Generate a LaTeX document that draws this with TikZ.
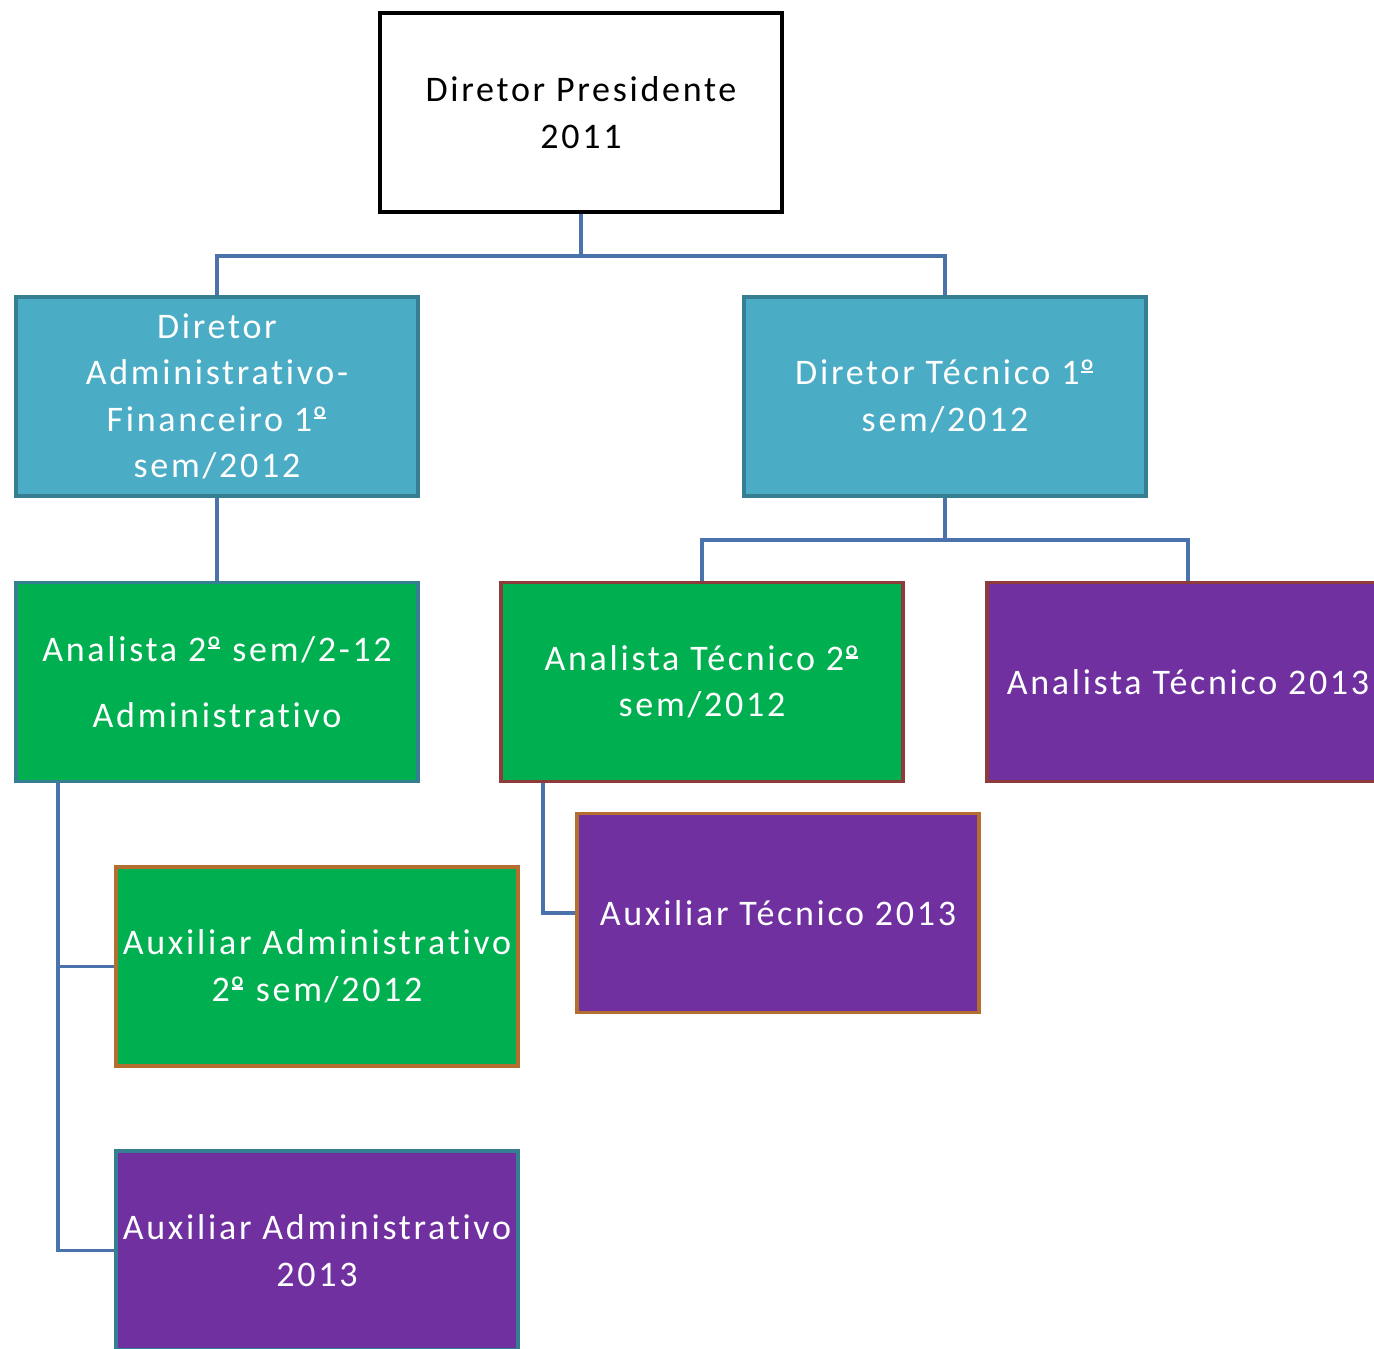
\documentclass[tikz,border=0pt]{standalone}
\usepackage{fontspec}
\setmainfont{Carlito}[LetterSpace=7.5, Ligatures=NoCommon]
\definecolor{cblue}{HTML}{4BACC6}
\definecolor{cteal}{HTML}{367F93}
\definecolor{cgreen}{HTML}{00B050}
\definecolor{cpurple}{HTML}{7030A0}
\definecolor{cred}{HTML}{8E3B3B}
\definecolor{corange}{HTML}{B46E30}
\definecolor{cline}{HTML}{4A72AB}
\newcommand\ordo{\mbox{\ooalign{º\cr\hidewidth\raisebox{.33em}{\rule{.32em}{.06em}}\hidewidth\cr}}}
\tikzset{
  box/.style={draw, rectangle, line width=3.5pt, minimum width=402pt, minimum height=199pt,
    align=center, text=white, font=\fontsize{36}{46.5}\selectfont, inner sep=0pt},
  conn/.style={draw=cline, line width=3.5pt}
}
\begin{document}
\begin{tikzpicture}[x=1pt,y=-1pt]
\clip (0,0) rectangle (1374,1349);
\fill[white] (0,0) rectangle (1374,1349);
\node[box, draw=black, line width=4pt, fill=white, text=black] (top) at (581,112.5) {Diretor Presidente\\2011};
\node[box, draw=cteal, fill=cblue] (daf) at (217,396.5) {Diretor\\Administrativo-\\Financeiro 1\ordo\\sem/2012};
\node[box, draw=cteal, fill=cblue] (dt) at (945,396.5) {Diretor Técnico 1\ordo\\sem/2012};
\node[box, draw=cteal, fill=cgreen] (aa) at (217,682) {Analista 2\ordo{} sem/2-12\\[20pt]Administrativo};
\node[box, draw=cred, fill=cgreen] (at2) at (702,682) {Analista Técnico 2\ordo\\sem/2012};
\node[box, draw=cred, fill=cpurple] (at13) at (1188,682) {Analista Técnico 2013};
\node[box, draw=corange, fill=cpurple] (axt) at (778,913) {Auxiliar Técnico 2013};
\node[box, draw=corange, fill=cgreen] (axa2) at (317,966.5) {Auxiliar Administrativo\\2\ordo{} sem/2012};
\node[box, draw=cteal, fill=cpurple] (axa13) at (317,1250.5) {Auxiliar Administrativo\\2013};
\coordinate (j1) at (581,256);
\coordinate (j2) at (945,540);
\draw[conn] (top.south) -- (j1);
\draw[conn] (daf.north) |- (j1) -| (dt.north);
\draw[conn] (daf.south) -- (aa.north);
\draw[conn] (dt.south) -- (j2);
\draw[conn] (at2.north) |- (j2) -| (at13.north);
\draw[conn] ([xshift=-159pt]aa.south) |- (axa2.west);
\draw[conn] ([xshift=-159pt]aa.south) |- (axa13.west);
\draw[conn] ([xshift=-159pt]at2.south) |- (axt.west);
\end{tikzpicture}
\end{document}
